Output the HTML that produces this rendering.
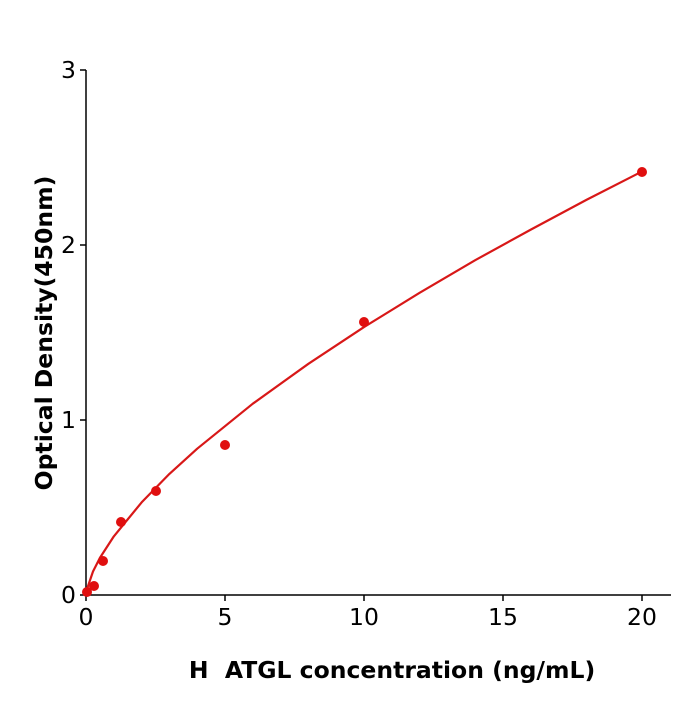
<!DOCTYPE html>
<html><head><style>body{margin:0;background:#fff}</style></head><body>
<svg width="700" height="700" xmlns="http://www.w3.org/2000/svg" font-family="'DejaVu Sans','Liberation Sans',sans-serif">
<rect width="700" height="700" fill="#fff"/>
<g stroke="#000" stroke-width="1.5" fill="none">
<line x1="86" y1="70" x2="86" y2="596"/>
<line x1="85" y1="595" x2="671" y2="595"/>
<line x1="86" y1="595" x2="86" y2="601"/>
<line x1="225" y1="595" x2="225" y2="601"/>
<line x1="364" y1="595" x2="364" y2="601"/>
<line x1="503" y1="595" x2="503" y2="601"/>
<line x1="642" y1="595" x2="642" y2="601"/>
<line x1="80" y1="595" x2="86" y2="595"/>
<line x1="80" y1="420" x2="86" y2="420"/>
<line x1="80" y1="245" x2="86" y2="245"/>
<line x1="80" y1="70" x2="86" y2="70"/>
</g>
<g font-size="23.5" fill="#000" text-anchor="middle">
<text x="86" y="625">0</text><text x="225" y="625">5</text><text x="364" y="625">10</text><text x="503" y="625">15</text><text x="642" y="625">20</text>
</g>
<g font-size="23.5" fill="#000" text-anchor="end">
<text x="76" y="603">0</text><text x="76" y="428">1</text><text x="76" y="253">2</text><text x="76" y="78">3</text>
</g>
<text x="392" y="678" font-size="23.5" font-weight="bold" text-anchor="middle">H&#160; ATGL concentration (ng/mL)</text>
<text transform="translate(52,333) rotate(-90)" font-size="23.5" font-weight="bold" text-anchor="middle">Optical Density(450nm)</text>
<path d="M86,592 L93,571.5 L99.9,557.9 L113.8,536.4 L141.6,502.4 L169.4,473.9 L197.2,448.7 L252.8,403.7 L308.4,363.8 L364,327.1 L419.6,292.8 L475.2,260.2 L530.8,229.6 L586.4,199.9 L642,171.5" fill="none" stroke="#d81818" stroke-width="2.2" stroke-linejoin="round"/>
<g fill="#e00f0f">
<circle cx="87" cy="592" r="5"/><circle cx="94" cy="586" r="5"/><circle cx="103" cy="561" r="5"/><circle cx="121" cy="522" r="5"/><circle cx="156" cy="491" r="5"/><circle cx="225" cy="445" r="5"/><circle cx="364" cy="322" r="5"/><circle cx="642" cy="172" r="5"/>
</g>
</svg>
</body></html>
